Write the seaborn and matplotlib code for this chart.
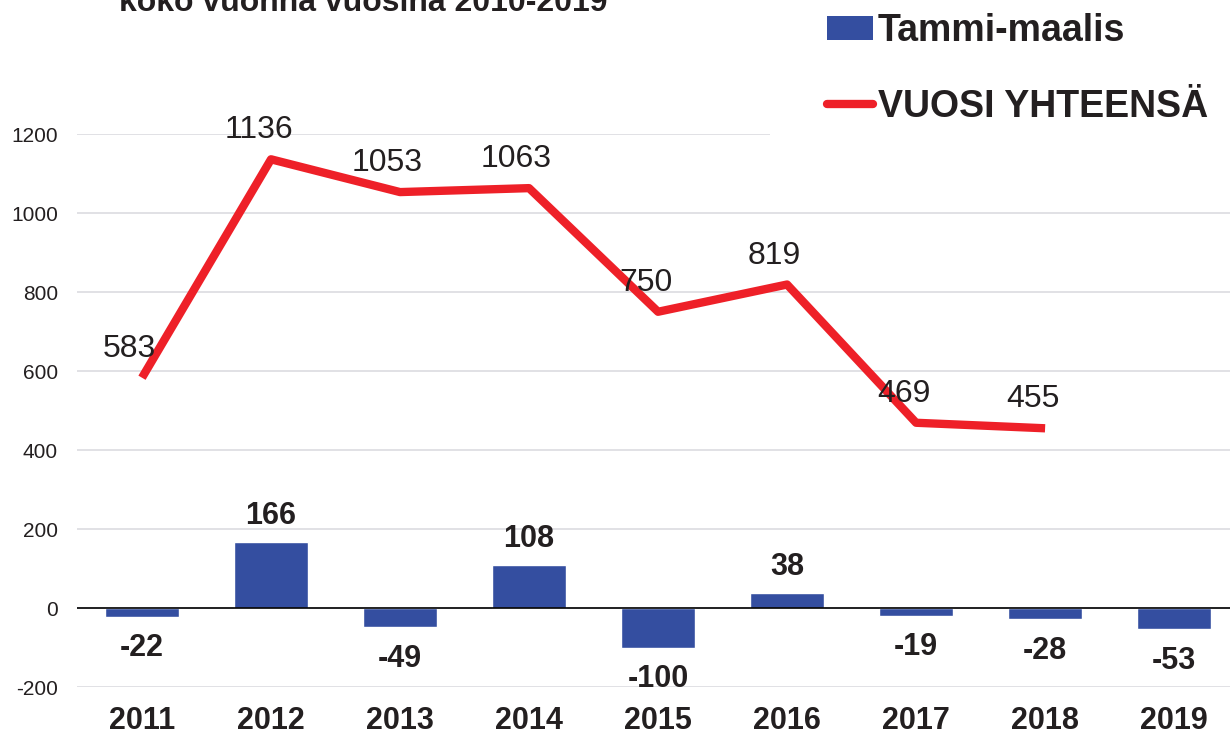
import matplotlib
matplotlib.use("Agg")
import matplotlib.pyplot as plt
import numpy as np
import pandas as pd
import seaborn as sns
from matplotlib.lines import Line2D
from matplotlib.patches import Patch, Rectangle

years = ["2011", "2012", "2013", "2014", "2015", "2016", "2017", "2018", "2019"]
q1_values = [-22, 166, -49, 108, -100, 38, -19, -28, -53]
year_totals = [583, 1136, 1053, 1063, 750, 819, 469, 455, np.nan]
y_ticks = [-200, 0, 200, 400, 600, 800, 1000, 1200]

bar_label = "Tammi-maalis"
line_label = "VUOSI YHTEENSÄ"
title = "koko vuonna vuosina 2010-2019"

BLUE = "#344EA0"
RED = "#EE2028"
TEXT = "#231F20"

df = pd.DataFrame({"year": years, "q1": q1_values, "total": year_totals})

sns.set_style("white")
plt.rcParams["font.family"] = ["Liberation Sans", "DejaVu Sans"]
plt.rcParams["axes.unicode_minus"] = False

fig = plt.figure(figsize=(12.3, 7.4), dpi=100)
ax = fig.add_axes([0.063, 0.0716, 0.944, 0.7473])

sns.barplot(data=df, x="year", y="q1", color=BLUE, width=0.57, saturation=1,
            ax=ax, zorder=3)
sns.lineplot(data=df.dropna(), x="year", y="total", color=RED, linewidth=6,
             ax=ax, zorder=4, solid_capstyle="butt")

ax.set_ylim(-200, 1200)
ax.set_xlim(-0.5, 8.5)
ax.set_yticks(y_ticks)
ax.set_xlabel("")
ax.set_ylabel("")
ax.yaxis.grid(True, color="#DCDCE0", linewidth=1.2, zorder=0)
ax.set_axisbelow(True)
ax.axhline(0, color="black", linewidth=1.2, zorder=3)
for s in ax.spines.values():
    s.set_visible(False)

ax.tick_params(axis="y", length=0, pad=14, labelsize=15, labelcolor=TEXT)
ax.tick_params(axis="x", length=0, pad=14, labelsize=22, labelcolor=TEXT)
for lbl in ax.get_xticklabels():
    lbl.set_fontweight("bold")

# bar value labels
for i, v in enumerate(q1_values):
    off = 8 if v >= 0 else -12
    ax.annotate(f"{v}", (i, v), xytext=(0, off), textcoords="offset points",
                ha="center", va="bottom" if v >= 0 else "top",
                fontsize=22, fontweight="bold", color=TEXT, zorder=5)

# line value labels
for i, v in enumerate(year_totals):
    if np.isnan(v):
        continue
    ax.annotate(f"{int(v)}", (i, v), xytext=(-9, 10), textcoords="offset points",
                ha="center", va="bottom", fontsize=23, color=TEXT,
                annotation_clip=False, zorder=5)

# white box behind the legend hides the top gridline on the right
fig.patches.append(Rectangle((770 / 1230, 1 - 141 / 740), 1, 141 / 740,
                             transform=fig.transFigure, facecolor="white",
                             edgecolor="none", zorder=1))

handles = [Patch(facecolor=BLUE, edgecolor="none"),
           Line2D([0], [0], color=RED, linewidth=6, solid_capstyle="round")]
leg = fig.legend(handles, [bar_label, line_label], loc="upper left",
                 bbox_to_anchor=(0.672, 0.982), frameon=False, fontsize=27,
                 handlelength=1.25, handleheight=0.6, handletextpad=0.12,
                 labelspacing=1.05, borderpad=0.0, borderaxespad=0)
leg.set_zorder(6)
for t in leg.get_texts():
    t.set_fontweight("bold")
    t.set_color(TEXT)

fig.text(0.295, 1 - 11 / 740, title, ha="center", va="baseline",
         fontsize=23, fontweight="bold", color=TEXT)

fig.savefig("out.png", dpi=100)
